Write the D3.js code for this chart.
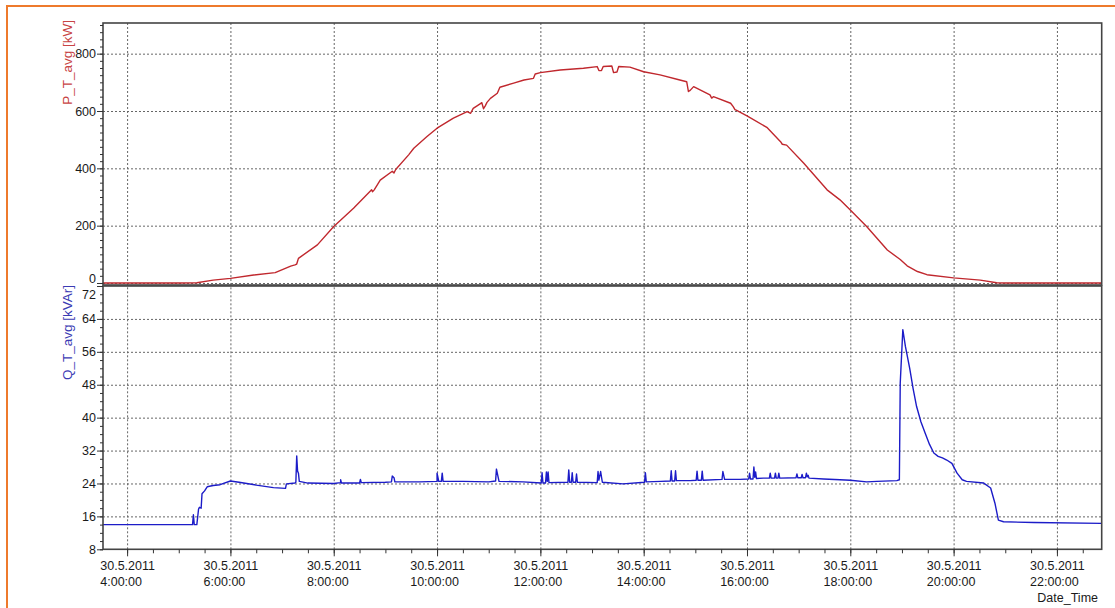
<!DOCTYPE html>
<html>
<head>
<meta charset="utf-8">
<script src="https://cdn.jsdelivr.net/npm/d3@7"></script>
<style>
  body { margin: 0; background: #fff; }
  svg { display: block; font-family: "Liberation Sans", Arial, sans-serif; }
  .grid line { stroke: #666; stroke-dasharray: 2, 2; }
  .grid path, .axis path { display: none; }
  .axis line { stroke: #333; }
  .axis text { fill: #1a1a1a; font-size: 12.5px; }
</style>
</head>
<body>
<svg id="chart" width="1115" height="608"></svg>
<script>
'use strict';

// time range shown (30.5.2011)
var day = "2011-05-30 ";
var xStart = "03:32", xEnd = "22:52";

// active power P_T_avg [kW]
var pAvg = [
  ["03:32", 0], ["05:02", 0], ["05:21", 1], ["05:40", 10], ["06:00", 16], ["06:27", 28],
  ["06:52", 36], ["07:10", 59], ["07:15", 63], ["07:17", 66], ["07:19", 86], ["07:41", 133],
  ["08:00", 197], ["08:23", 261], ["08:44", 325], ["08:45", 318], ["08:47", 325], ["08:54", 359],
  ["09:08", 390], ["09:10", 384], ["09:12", 396], ["09:27", 447], ["09:33", 470], ["09:48", 510],
  ["10:00", 540], ["10:19", 575], ["10:35", 598], ["10:39", 592], ["10:42", 609], ["10:50", 625],
  ["10:52", 629], ["10:54", 608], ["10:56", 618], ["10:58", 630], ["11:02", 644], ["11:10", 662],
  ["11:13", 683], ["11:29", 697], ["11:41", 708], ["11:52", 714], ["11:54", 729], ["12:00", 734],
  ["12:23", 743], ["12:50", 749], ["13:06", 755], ["13:08", 741], ["13:11", 741], ["13:13", 755],
  ["13:23", 757], ["13:25", 734], ["13:29", 736], ["13:31", 755], ["13:44", 753], ["14:00", 737],
  ["14:19", 726], ["14:42", 708], ["14:50", 702], ["14:52", 668], ["14:54", 672], ["14:58", 685],
  ["15:17", 656], ["15:19", 645], ["15:21", 650], ["15:41", 627], ["15:44", 615], ["15:46", 605],
  ["15:48", 602], ["16:00", 583], ["16:23", 543], ["16:39", 493], ["16:41", 484], ["16:46", 481],
  ["17:06", 418], ["17:33", 325], ["17:48", 290], ["18:00", 255], ["18:19", 197], ["18:43", 115],
  ["18:58", 82], ["19:06", 60], ["19:18", 40], ["19:29", 29], ["20:00", 18], ["20:31", 10],
  ["20:50", 1], ["21:00", 0], ["22:52", 0]
];

// reactive power Q_T_avg [kVAr]
var qAvg = [
  ["03:32", 14.0], ["05:16", 14.0], ["05:17", 16.4], ["05:18", 14.0], ["05:21", 14.0], ["05:23", 17.8],
  ["05:24", 18.2], ["05:26", 18.0], ["05:27", 21.5], ["05:30", 22.2], ["05:33", 23.2], ["05:40", 23.5],
  ["05:48", 23.7], ["06:00", 24.6], ["06:10", 24.3], ["06:30", 23.6], ["06:50", 23.0], ["07:04", 22.8],
  ["07:05", 23.9], ["07:15", 24.1], ["07:16", 24.3], ["07:17", 30.7], ["07:18", 27.0], ["07:19", 26.5],
  ["07:20", 24.5], ["07:30", 24.1], ["08:00", 24.0], ["08:08", 24.2], ["08:08", 24.9], ["08:09", 24.1],
  ["08:30", 24.1], ["08:31", 25.0], ["08:32", 24.2], ["09:00", 24.3], ["09:07", 24.4], ["09:08", 25.8],
  ["09:10", 25.4], ["09:11", 24.4], ["09:40", 24.4], ["10:00", 24.5], ["10:00", 26.5], ["10:02", 24.5],
  ["10:05", 24.5], ["10:06", 26.5], ["10:07", 24.5], ["10:30", 24.5], ["11:00", 24.4], ["11:08", 24.6],
  ["11:09", 27.5], ["11:11", 25.5], ["11:12", 24.5], ["11:40", 24.4], ["12:01", 24.1], ["12:02", 26.6],
  ["12:03", 24.1], ["12:06", 24.1], ["12:07", 26.8], ["12:08", 24.5], ["12:09", 26.8], ["12:10", 24.2],
  ["12:32", 24.3], ["12:33", 27.3], ["12:34", 24.3], ["12:36", 24.3], ["12:37", 26.6], ["12:38", 24.3],
  ["12:41", 24.3], ["12:42", 26.3], ["12:43", 24.3], ["13:06", 24.2], ["13:07", 26.9], ["13:08", 24.8],
  ["13:10", 26.9], ["13:12", 24.3], ["13:36", 23.9], ["14:01", 24.3], ["14:02", 26.6], ["14:03", 24.4],
  ["14:20", 24.5], ["14:31", 24.6], ["14:32", 27.1], ["14:33", 24.6], ["14:36", 24.6], ["14:37", 27.1],
  ["14:38", 24.7], ["14:54", 24.7], ["15:01", 24.8], ["15:02", 27.0], ["15:03", 24.8], ["15:07", 24.8],
  ["15:08", 27.0], ["15:09", 24.8], ["15:31", 25.0], ["15:32", 26.9], ["15:34", 25.0], ["15:52", 25.0],
  ["16:02", 25.1], ["16:03", 26.5], ["16:04", 25.1], ["16:07", 25.1], ["16:08", 28.0], ["16:09", 25.5],
  ["16:10", 26.8], ["16:11", 25.2], ["16:19", 25.3], ["16:26", 25.3], ["16:27", 26.5], ["16:28", 25.3],
  ["16:32", 25.3], ["16:33", 26.5], ["16:34", 25.3], ["16:36", 25.3], ["16:37", 26.5], ["16:38", 25.3],
  ["16:57", 25.4], ["16:58", 26.3], ["16:59", 25.4], ["17:03", 25.4], ["17:04", 26.2], ["17:05", 25.4],
  ["17:08", 25.4], ["17:09", 26.5], ["17:10", 25.6], ["17:11", 26.0], ["17:12", 25.3], ["17:29", 25.1],
  ["17:48", 24.9], ["18:00", 24.8], ["18:19", 24.4], ["18:31", 24.5], ["18:54", 24.7], ["18:57", 24.9],
  ["18:58", 48.4], ["19:01", 61.4], ["19:04", 57.3], ["19:09", 52.0], ["19:13", 47.0], ["19:17", 42.7],
  ["19:22", 39.0], ["19:27", 36.2], ["19:32", 33.5], ["19:37", 31.4], ["19:42", 30.6], ["19:47", 30.2],
  ["19:52", 29.7], ["19:58", 28.9], ["20:04", 26.5], ["20:10", 24.9], ["20:15", 24.5], ["20:35", 24.1],
  ["20:43", 22.9], ["20:48", 19.2], ["20:52", 15.1], ["20:58", 14.7], ["21:33", 14.5], ["22:52", 14.3]
];

var pTicks = [0, 200, 400, 600, 800];
var pDomain = [-7, 907];
var qTicks = [8, 16, 24, 32, 40, 48, 56, 64, 72];
var qDomain = [8, 72];

var svg = d3.select("#chart");
var parseTime = d3.timeParse("%Y-%m-%d %H:%M");
var fmtDate = d3.timeFormat("%-d.%-m.%Y"), fmtTime = d3.timeFormat("%-H:%M:%S");

var left = 103, right = 1101.7;
var topPanel = {top: 23, bottom: 285}, botPanel = {top: 286, bottom: 549.3};

var x = d3.scaleTime()
  .domain([parseTime(day + xStart), parseTime(day + xEnd)])
  .range([left, right]);
var yP = d3.scaleLinear().domain(pDomain).range([topPanel.bottom, topPanel.top]);
var yQ = d3.scaleLinear().domain(qDomain).range([botPanel.bottom, botPanel.top]);

var majors = x.ticks(d3.timeHour.every(2));
var minors = x.ticks(d3.timeMinute.every(30));

function toRows(arr) {
  return arr.map(function (d) { return {t: parseTime(day + d[0]), v: d[1]}; });
}

// orange frame of the screenshot
svg.append("path")
  .attr("d", "M7,608 L7,6 L1115,6")
  .attr("fill", "none").attr("stroke", "#ee7a2c").attr("stroke-width", 2);

function drawPanel(panel, y, hTicks, rows, color, id) {
  var h = panel.bottom - panel.top;

  svg.append("g").attr("class", "grid")
    .attr("transform", "translate(0," + panel.bottom + ")")
    .call(d3.axisBottom(x).tickValues(majors).tickSize(-h).tickFormat(""));

  svg.append("g").attr("class", "grid")
    .attr("transform", "translate(" + left + ",0)")
    .call(d3.axisLeft(y).tickValues(hTicks).tickSize(-(right - left)).tickFormat(""));

  svg.append("clipPath").attr("id", id)
    .append("rect").attr("x", left).attr("y", panel.top).attr("width", right - left).attr("height", h);

  svg.append("path")
    .datum(rows)
    .attr("clip-path", "url(#" + id + ")")
    .attr("fill", "none")
    .attr("stroke", color)
    .attr("stroke-width", 1.4)
    .attr("stroke-linejoin", "round")
    .attr("d", d3.line().x(function (d) { return x(d.t); }).y(function (d) { return y(d.v); }));

  svg.append("rect")
    .attr("x", left).attr("y", panel.top).attr("width", right - left).attr("height", h)
    .attr("fill", "none").attr("stroke", "#444").attr("stroke-width", 1.6);
}

drawPanel(topPanel, yP, pTicks, toRows(pAvg), "#c0282e", "clipP");
drawPanel(botPanel, yQ, qTicks.slice(1, -1), toRows(qAvg), "#1c1cc8", "clipQ");

// y axes: major ticks with labels, minor ticks without
function yAxis(y, ticks, step, clampLo, clampHi) {
  var d = y.domain();
  svg.append("g").attr("class", "axis")
    .attr("transform", "translate(" + left + ",0)")
    .call(d3.axisLeft(y).tickValues(d3.range(Math.ceil(d[0] / step) * step, d[1] + 0.001, step)).tickSize(3).tickFormat(""));
  var g = svg.append("g").attr("class", "axis")
    .attr("transform", "translate(" + left + ",0)")
    .call(d3.axisLeft(y).tickValues(ticks).tickSize(6).tickPadding(1));
  // keep labels off the panel separator
  g.selectAll("text").attr("y", function (v) {
    var py = y(v);
    return Math.min(Math.max(py, clampLo), clampHi) - py;
  });
}
yAxis(yP, pTicks, 25, -Infinity, topPanel.bottom - 6.5);
yAxis(yQ, qTicks, 2, botPanel.top + 8.5, Infinity);

// x axis, ticks below the lower panel
svg.append("g").attr("class", "axis")
  .attr("transform", "translate(0," + botPanel.bottom + ")")
  .call(d3.axisBottom(x).tickValues(minors).tickSize(4).tickFormat(""));
var xg = svg.append("g").attr("class", "axis")
  .attr("transform", "translate(0," + botPanel.bottom + ")")
  .call(d3.axisBottom(x).tickValues(majors).tickSize(7).tickFormat(""));

xg.selectAll(".tick").each(function (t) {
  var txt = d3.select(this).append("text").attr("text-anchor", "start");
  var d1 = txt.append("tspan").attr("y", 20.5).text(fmtDate(t));
  var d2 = txt.append("tspan").attr("y", 37).text(fmtTime(t));
  var w = d1.node().getComputedTextLength();
  d1.attr("x", -w / 2);
  d2.attr("x", -w / 2);
});

// axis titles
svg.append("text")
  .attr("transform", "translate(68," + (topPanel.top - 3) + ") rotate(-90)")
  .attr("text-anchor", "end").attr("dominant-baseline", "middle")
  .attr("fill", "#c84444").style("font-size", "13.5px")
  .text("P_T_avg [kW]");
svg.append("text")
  .attr("transform", "translate(68," + (botPanel.top - 1) + ") rotate(-90)")
  .attr("text-anchor", "end").attr("dominant-baseline", "middle")
  .attr("fill", "#3b3bb4").style("font-size", "13.5px")
  .text("Q_T_avg [kVAr]");

svg.append("text")
  .attr("x", 1098).attr("y", 602)
  .attr("text-anchor", "end")
  .attr("fill", "#1a1a1a").style("font-size", "12.5px")
  .text("Date_Time");
</script>
</body>
</html>
